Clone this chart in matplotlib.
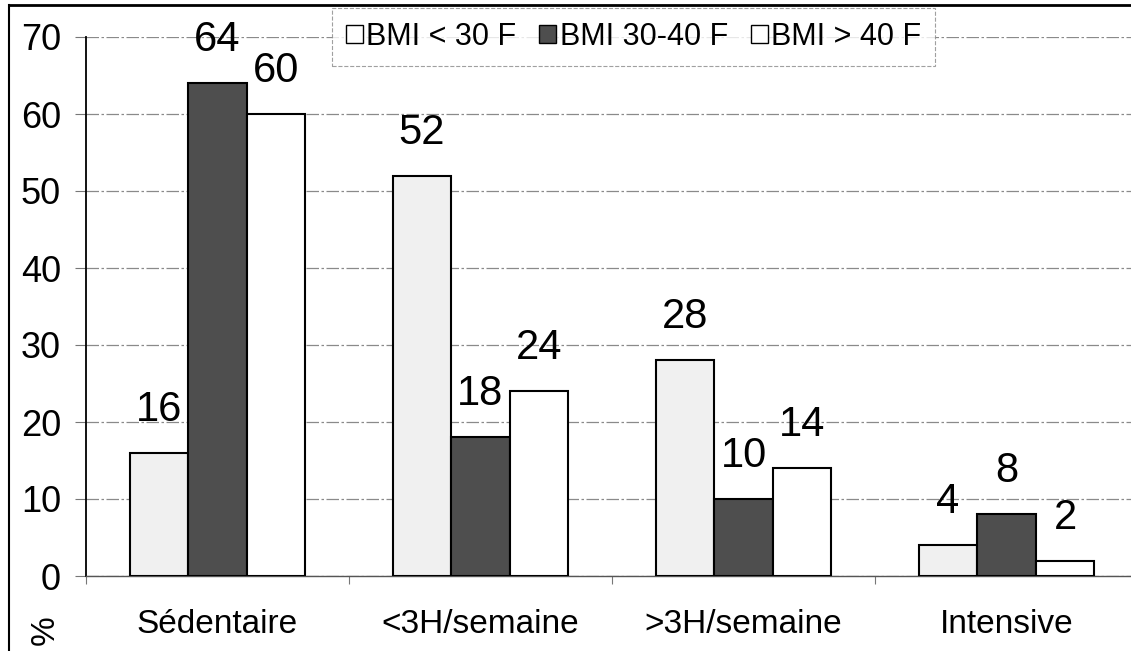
import matplotlib
matplotlib.use("Agg")
import matplotlib.pyplot as plt
from matplotlib.lines import Line2D
import numpy as np

plt.rcParams['font.family'] = ['Liberation Sans', 'DejaVu Sans']

# Données
categories = ['Sédentaire', '<3H/semaine', '>3H/semaine', 'Intensive']
series_labels = ['BMI < 30 F', 'BMI 30-40 F', 'BMI > 40 F']
bmi_moins30 = [16, 52, 28, 4]
bmi_30_40 = [64, 18, 10, 8]
bmi_plus40 = [60, 24, 14, 2]
y_ticks = [0, 10, 20, 30, 40, 50, 60, 70]

W, H = 1131, 651
fig = plt.figure(figsize=(W / 100, H / 100), dpi=100)
fig.patch.set_facecolor('white')

# axes (le bord droit dépasse de l'image comme dans l'original)
left, right, bottom, top = 86, 1138, 576, 37
ax = fig.add_axes([left / W, (H - bottom) / H, (right - left) / W, (bottom - top) / H])

x = np.arange(len(categories)) + 0.5
w = 0.223
series = [bmi_moins30, bmi_30_40, bmi_plus40]
colors = ['#f0f0f0', '#4e4e4e', 'white']
offsets = [-w, 0, w]

for vals, col, off, lab in zip(series, colors, offsets, series_labels):
    bars = ax.bar(x + off, vals, width=w, color=col, edgecolor='black',
                  linewidth=1.5, label=lab, zorder=3)
    for b, v in zip(bars, vals):
        ax.annotate(str(v), (b.get_x() + b.get_width() / 2, v),
                    xytext=(0, 31), textcoords='offset points',
                    ha='center', va='center', fontsize=30, zorder=4)

ax.set_xlim(0, 4)
ax.set_ylim(0, 70)
ax.set_yticks(y_ticks)
ax.set_yticklabels([str(t) for t in y_ticks])
ax.tick_params(axis='y', labelsize=26, length=8, width=0.8, color='#777777', pad=10)

ax.set_xticks(x)
ax.set_xticklabels(categories)
ax.set_xticks([0, 1, 2, 3, 4], minor=True)
ax.tick_params(axis='x', which='major', length=0, labelsize=24, pad=24)
ax.tick_params(axis='x', which='minor', length=6, width=0.8, color='#777777')

ax.yaxis.grid(True, color='#8a8a8a', linewidth=0.9, linestyle=(0, (10, 2, 2, 2)), zorder=0)
for s in ['top', 'right']:
    ax.spines[s].set_visible(False)
ax.spines['left'].set_linewidth(1.3)
ax.spines['bottom'].set_color('#555555')
ax.spines['bottom'].set_linewidth(1.0)

# légende
leg = ax.legend(loc='upper left', bbox_to_anchor=(332 / W, 1 - 8 / H),
                bbox_transform=fig.transFigure, ncol=3, fontsize=22,
                frameon=True, fancybox=False, borderaxespad=0,
                handlelength=0.55, handleheight=0.55, handletextpad=0.12,
                columnspacing=0.75, borderpad=0.45)
leg.get_frame().set_edgecolor('#888888')
leg.get_frame().set_linestyle('--')
leg.get_frame().set_linewidth(0.8)
leg.legend_handles[0].set_facecolor('white')
for h in leg.legend_handles:
    h.set_linewidth(1.0)

fig.text(45 / W, 1 - 630 / H, '%', rotation=90, fontsize=24, ha='center', va='center')

# cadre extérieur
fig.add_artist(Line2D([9 / W, 9 / W], [0, 1 - 5 / H], color='black', linewidth=1.5))
fig.add_artist(Line2D([9 / W, 1], [1 - 5 / H, 1 - 5 / H], color='black', linewidth=2))

fig.savefig('out.png', dpi=100)
